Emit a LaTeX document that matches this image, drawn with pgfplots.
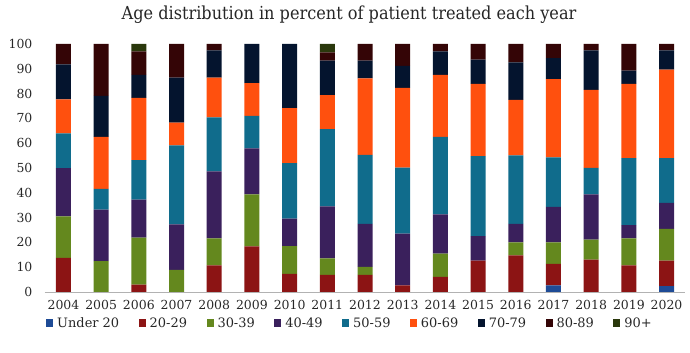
\documentclass[border=0pt]{standalone}
\usepackage{pgfplots}
\pgfplotsset{compat=1.18}
\usepackage{pgfplotstable}
\usepackage{fontspec}
\setmainfont{DejaVu Serif}
\newfontfamily\titlefont{DejaVu Serif Condensed}
\definecolor{cU}{RGB}{30,75,150}
\definecolor{cA}{RGB}{140,20,20}
\definecolor{cB}{RGB}{100,136,30}
\definecolor{cC}{RGB}{58,32,92}
\definecolor{cD}{RGB}{16,108,140}
\definecolor{cE}{RGB}{255,80,14}
\definecolor{cF}{RGB}{4,20,46}
\definecolor{cG}{RGB}{52,5,6}
\definecolor{cH}{RGB}{42,56,12}
\pgfplotstableread{
x  u   a    b    c    d    e    f    g    h
0  0   13.8 16.7 19.4 14.1 13.7 14.1 8.2  0
1  0   0    12.4 20.8 8.4  20.9 16.6 20.9 0
2  0   3.0  18.9 15.3 16.0 25.1 9.3  9.4  3.0
3  0   0    8.9  18.4 31.8 9.2  18.1 13.6 0
4  0   10.7 10.9 27.0 21.8 16.0 11.0 2.6  0
5  0   18.4 21.0 18.5 13.1 13.2 15.8 0    0
6  0   7.3  11.2 11.1 22.4 22.1 25.9 0    0
7  0   6.9  6.7  20.9 31.2 13.7 13.9 3.3  3.4
8  0   6.9  3.2  17.4 27.8 30.8 7.2  6.7  0
9  0   2.7  0    20.8 26.7 32.1 8.9  8.8  0
10 0   6.1  9.4  15.8 31.3 25.0 9.4  3.0  0
11 0   12.7 0    9.8  32.3 29.1 9.8  6.3  0
12 0   14.8 5.2  7.5  27.6 22.4 15.1 7.4  0
13 2.7 8.6  8.7  14.3 20.0 31.5 8.5  5.7  0
14 0   13.1 8.0  18.3 10.7 31.4 15.9 2.6  0
15 0   10.7 10.9 5.4  27.0 29.9 5.4  10.7 0
16 2.4 10.3 12.8 10.4 18.1 35.7 7.7  2.6  0
}\data
\begin{document}
\begin{tikzpicture}
\path[use as bounding box] (0,0) rectangle (690bp,353bp);
\begin{axis}[
  at={(44.6bp,61bp)}, anchor=south west,
  scale only axis, width=640.8bp, height=248bp,
  ybar stacked, bar width=15bp,
  xmin=-0.5, xmax=16.5, ymin=0, ymax=100,
  axis x line*=bottom, axis y line*=left,
  x axis line style={draw=black!30, line width=0.8pt, -},
  y axis line style={draw=none},
  xtick={0,...,16},
  xticklabels={2004,2005,2006,2007,2008,2009,2010,2011,2012,2013,2014,2015,2016,2017,2018,2019,2020},
  major tick length=0pt,
  ytick={0,10,...,100},
  /pgf/number format/assume math mode=true,
  tick label style={font=\fontsize{12.5}{14}\selectfont, text=black!85},
  xticklabel style={anchor=base, yshift=-17bp},
  yticklabel style={anchor=east, inner sep=0pt, xshift=-12bp},
  title={Age distribution in percent of patient treated each year},
  title style={font=\titlefont\fontsize{18}{20}\selectfont, text=black!85, anchor=base, at={(0.5,1)}, yshift=19bp, xshift=-16bp},
  legend style={draw=none, at={(0.5,0)}, anchor=center, yshift=-31bp, xshift=-15bp,
    font=\fontsize{13}{15}\selectfont, text=black!85,
    /tikz/every odd column/.append style={column sep=2bp},
    /tikz/every even column/.append style={column sep=17.5bp}},
  legend columns=-1,
  legend image code/.code={\fill[#1] (0bp,-3.5bp) rectangle (7bp,3.5bp);},
  every axis plot/.append style={draw=none},
]
\addplot[fill=cU] table[x=x,y=u]{\data};
\addplot[fill=cA] table[x=x,y=a]{\data};
\addplot[fill=cB] table[x=x,y=b]{\data};
\addplot[fill=cC] table[x=x,y=c]{\data};
\addplot[fill=cD] table[x=x,y=d]{\data};
\addplot[fill=cE] table[x=x,y=e]{\data};
\addplot[fill=cF] table[x=x,y=f]{\data};
\addplot[fill=cG] table[x=x,y=g]{\data};
\addplot[fill=cH] table[x=x,y=h]{\data};
\legend{Under 20,20-29,30-39,40-49,50-59,60-69,70-79,80-89,90+}
\end{axis}
\end{tikzpicture}
\end{document}
